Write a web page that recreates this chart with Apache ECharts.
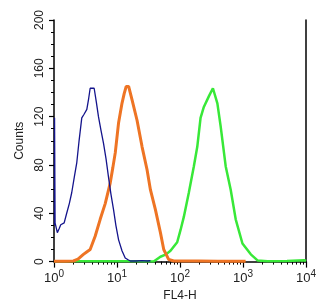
<!DOCTYPE html>
<html><head><meta charset="utf-8">
<script src="https://cdn.jsdelivr.net/npm/echarts@6/dist/echarts.min.js"></script>
<style>html,body{margin:0;padding:0;background:#fff}#c{width:334px;height:307px}</style>
</head><body><div id="c"></div>
<script>
var xTicks = [1, 10, 100, 1000, 10000];
var yTicks = [0, 40, 80, 120, 160, 200];
var minorX = [2,3,4,5,6,7,8,9,20,30,40,50,60,70,80,90,200,300,400,500,600,700,800,900,2000,3000,4000,5000,6000,7000,8000,9000];

var blueX = [1.02,1.02,1.04,1.13,1.2,1.28,1.45,1.59,1.75,1.91,2.1,2.3,2.5,2.76,3.0,3.32,3.55,3.75,4.34,4.7,5.08,5.6,6.1,6.7,7.33,8.0,8.81,9.6,10.6,12,13.5,15,16.3,20,25,30,34];
var blueY = [30,119,32,24,27,30.5,32,40,48,57,70,82,100,119,122,126,135,143.5,143.5,132,120,108,98,85,70,56,43,30,18,9,3,1.5,0.5,0.5,0.8,0.5,0.7];

var orangeX = [1,1.5,2.03,2.4,2.93,3.3,3.75,4.5,5.41,6.5,7.8,8.6,9.38,10.6,12.0,13,14.0,15.3,17.3,20.8,25.0,30.0,33.9,40.7,48.9,55.2,66.3,79.6,100,200,400,800,1100];
var orangeY = [0.3,0.3,0.5,2,6,8,10,21,35,48,65,78,90,115,131,139,145,145,134,117,95,76,59.5,43,24,10,1.7,0.5,0.5,0.4,0.3,0.3,0.2];

var greenX = [1,5,20,38.2,48.9,60,70.6,90.2,101.8,115,138,166,188,212,239,288,333,392,442,531,638,766,980,1330,1700,2450,5000,9290,10000];
var greenY = [0.3,0.3,0.3,0,4,6,9,16,26,37,57,79,95,119,128,137,143.5,131,112,79,59.5,35,15,6,1,0.3,0.5,1.2,0.5];

function pairs(xs, ys){ return xs.map(function(x,i){return [x, ys[i]];}); }

var chart = echarts.init(document.getElementById('c'), null, {renderer:'canvas'});
var font = 'Liberation Sans';
chart.setOption({
  animation:false,
  backgroundColor:'#fff',
  grid:{left:54, right:28, top:20, bottom:45},
  xAxis:[{
    type:'log', logBase:10, min:1, max:10000,
    name:'FL4-H', nameLocation:'middle', nameGap:27,
    nameTextStyle:{color:'#222', fontFamily:font, fontSize:12},
    axisLine:{show:true, onZero:false, lineStyle:{color:'#000', width:1.5}},
    axisTick:{show:true, length:6, lineStyle:{color:'#000', width:1.2}},
    splitLine:{show:false},
    axisLabel:{
      color:'#222', fontFamily:font, fontSize:13, margin:8,
      formatter:function(v){ return '10{s|' + Math.round(Math.log10(v)) + '}'; },
      rich:{s:{fontSize:10, fontFamily:font, color:'#222', verticalAlign:'top', padding:[0,0,8,0]}}
    }
  },{
    type:'log', logBase:10, min:1, max:10000, position:'bottom',
    axisLine:{show:false},
    axisTick:{show:true, length:3, customValues:minorX, lineStyle:{color:'#000', width:1}},
    axisLabel:{show:false},
    splitLine:{show:false}
  }],
  yAxis:[{
    type:'value', min:0, max:200, interval:40,
    name:'Counts', nameLocation:'middle', nameGap:26,
    nameTextStyle:{color:'#222', fontFamily:font, fontSize:12},
    axisLine:{show:true, lineStyle:{color:'#000', width:1.5}},
    axisTick:{show:true, length:5, lineStyle:{color:'#000', width:1.2}},
    minorTick:{show:true, splitNumber:4, length:3, lineStyle:{color:'#000', width:1}},
    splitLine:{show:false},
    axisLabel:{color:'#222', fontFamily:font, fontSize:12, rotate:90, margin:8}
  },{
    type:'value', min:0, max:200, position:'right',
    axisLine:{show:true, lineStyle:{color:'#000', width:1.5}},
    axisTick:{show:false}, axisLabel:{show:false}, splitLine:{show:false}
  }],
  series:[
    {type:'line', data:pairs(greenX, greenY), showSymbol:false, lineStyle:{color:'#38e838', width:2.5}, z:2},
    {type:'line', data:pairs(orangeX, orangeY), showSymbol:false, lineStyle:{color:'#ee7424', width:3}, z:3},
    {type:'line', data:pairs(blueX, blueY), showSymbol:false, clip:false, lineStyle:{color:'#14148c', width:1.3}, z:4}
  ]
});
</script></body></html>
